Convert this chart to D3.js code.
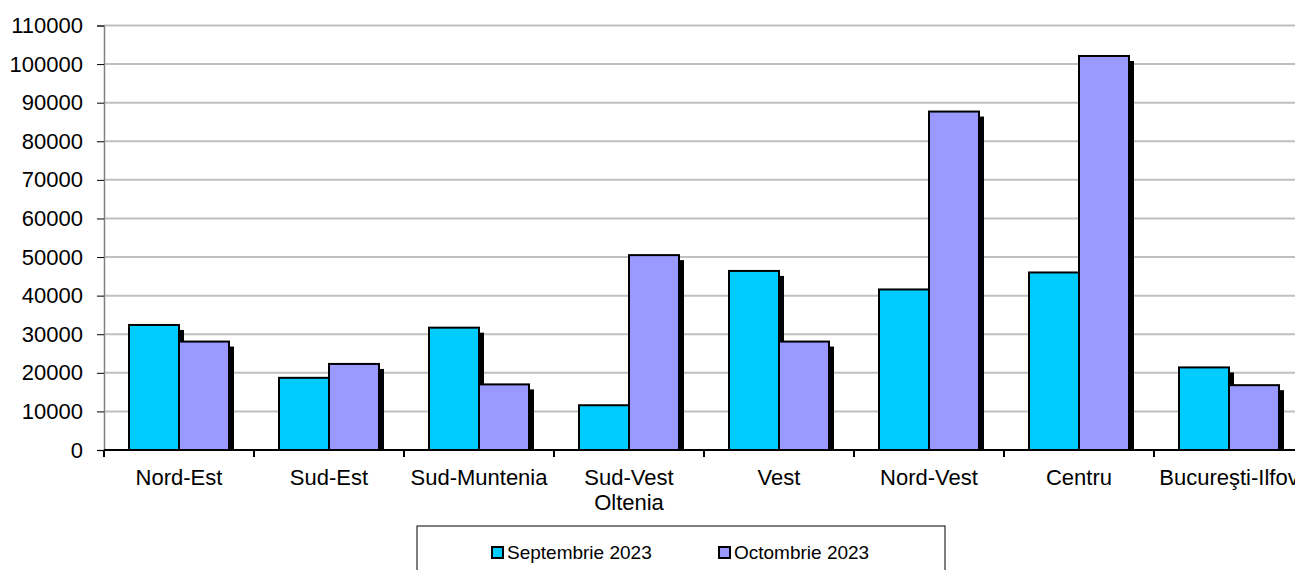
<!DOCTYPE html>
<html>
<head>
<meta charset="utf-8">
<script src="https://cdn.jsdelivr.net/npm/d3@7"></script>
<style>
  body { margin: 0; background: #fff; }
  text { font-family: "Liberation Sans", Arial, sans-serif; fill: #000; }
</style>
</head>
<body>
<script>
const w = 1295,
  h = 570;

const regions = ['Nord-Est', 'Sud-Est', 'Sud-Muntenia', 'Sud-Vest\nOltenia', 'Vest', 'Nord-Vest', 'Centru', 'Bucureşti-Ilfov'];
const seriesNames = ['Septembrie 2023', 'Octombrie 2023'];
const sept = [32400, 18700, 31700, 11600, 46400, 41600, 46000, 21400];
const oct = [28100, 22300, 17000, 50500, 28100, 87700, 102100, 16800];
const yTicks = [0, 10000, 20000, 30000, 40000, 50000, 60000, 70000, 80000, 90000, 100000, 110000];
const colors = ['#00ccff', '#9999ff'];

const data = regions.map((r, i) => ({ region: r, values: [sept[i], oct[i]] }));

const plotLeft = 104, plotRight = 1304, plotTop = 25.5, plotBottom = 450;

const svg = d3.select('body')
  .append('svg')
  .attr('width', w)
  .attr('height', h);

const xScale = d3.scaleBand()
  .domain(regions)
  .range([plotLeft, plotRight])
  .paddingInner(1 / 3)
  .paddingOuter(1 / 6);

const x1 = d3.scaleBand()
  .domain([0, 1])
  .range([0, xScale.bandwidth()]);

const yScale = d3.scaleLinear()
  .domain([0, 110000])
  .range([plotBottom, plotTop]);

// gridlines
svg.append('g')
  .selectAll('line')
  .data(yTicks.slice(1))
  .enter()
  .append('line')
  .attr('x1', plotLeft)
  .attr('x2', w)
  .attr('y1', d => yScale(d))
  .attr('y2', d => yScale(d))
  .attr('stroke', '#c0c0c0')
  .attr('stroke-width', 2);

const groups = svg.selectAll('g.region')
  .data(data)
  .enter()
  .append('g')
  .attr('class', 'region')
  .attr('transform', d => `translate(${xScale(d.region)},0)`);

// shadows first
groups.selectAll('rect.shadow')
  .data(d => d.values)
  .enter()
  .append('rect')
  .attr('class', 'shadow')
  .attr('x', (d, i) => x1(i) + 5)
  .attr('y', d => yScale(d) + 5)
  .attr('width', x1.bandwidth())
  .attr('height', d => plotBottom - yScale(d) - 5)
  .attr('fill', '#000');

groups.selectAll('rect.bar')
  .data(d => d.values)
  .enter()
  .append('rect')
  .attr('class', 'bar')
  .attr('x', (d, i) => x1(i))
  .attr('y', d => yScale(d))
  .attr('width', x1.bandwidth())
  .attr('height', d => plotBottom - yScale(d))
  .attr('fill', (d, i) => colors[i])
  .attr('stroke', '#000')
  .attr('stroke-width', 2);

// y axis
const yAxis = d3.axisLeft(yScale)
  .tickValues(yTicks)
  .tickSize(7)
  .tickPadding(14)
  .tickFormat(d3.format('d'));

const gy = svg.append('g')
  .attr('transform', `translate(${plotLeft},0)`)
  .call(yAxis);
gy.select('.domain').attr('stroke', '#808080').attr('stroke-width', 1.5);
gy.selectAll('.tick line').attr('stroke', '#000');
gy.selectAll('.tick text').style('font-size', '22px');

// x axis
const gx = svg.append('g')
  .attr('transform', `translate(0,${plotBottom})`);
gx.append('line')
  .attr('x1', plotLeft)
  .attr('x2', w)
  .attr('stroke', '#000')
  .attr('stroke-width', 2);
gx.selectAll('line.tick')
  .data(regions)
  .enter()
  .append('line')
  .attr('class', 'tick')
  .attr('x1', d => xScale(d) - xScale.step() * xScale.paddingInner() / 2)
  .attr('x2', d => xScale(d) - xScale.step() * xScale.paddingInner() / 2)
  .attr('y1', 0)
  .attr('y2', 7)
  .attr('stroke', '#000')
  .attr('stroke-width', 2);

gx.selectAll('text')
  .data(regions)
  .enter()
  .append('text')
  .attr('x', d => xScale(d) + xScale.bandwidth() / 2)
  .attr('y', 35)
  .attr('text-anchor', 'middle')
  .style('font-size', '22px')
  .each(function(d) {
    d.split('\n').forEach((line, i) => {
      d3.select(this).append('tspan')
        .attr('x', xScale(d) + xScale.bandwidth() / 2)
        .attr('dy', i ? 25 : 0)
        .text(line);
    });
  });

// legend
const legend = svg.append('g');
legend.append('rect')
  .attr('x', 417)
  .attr('y', 526)
  .attr('width', 528)
  .attr('height', 60)
  .attr('fill', '#fff')
  .attr('stroke', '#000')
  .attr('stroke-width', 1);

const legendX = [492, 719];
const items = legend.selectAll('g.item')
  .data(seriesNames)
  .enter()
  .append('g')
  .attr('class', 'item')
  .attr('transform', (d, i) => `translate(${legendX[i]},547)`);
items.append('rect')
  .attr('width', 11)
  .attr('height', 11)
  .attr('fill', (d, i) => colors[i])
  .attr('stroke', '#000')
  .attr('stroke-width', 2);
items.append('text')
  .attr('x', 15)
  .attr('y', 12)
  .style('font-size', '19px')
  .text(d => d);
</script>
</body>
</html>
